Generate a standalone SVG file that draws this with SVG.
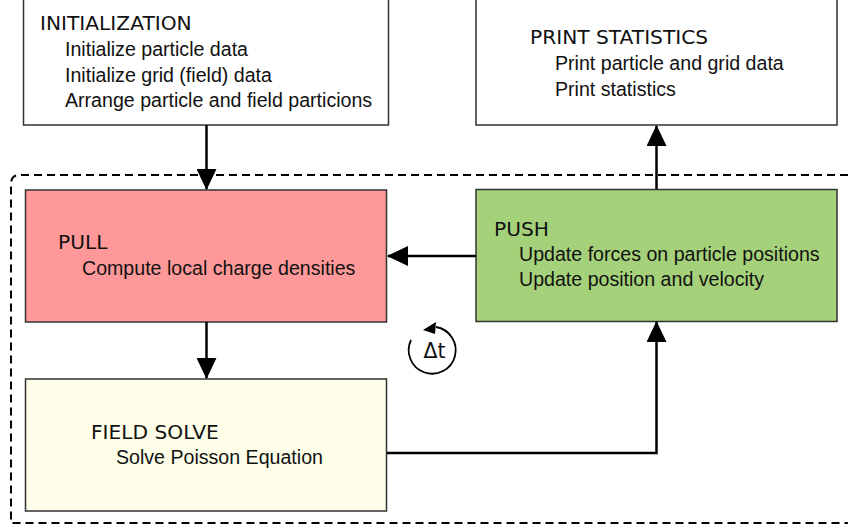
<svg xmlns="http://www.w3.org/2000/svg" width="848" height="530" viewBox="0 0 848 530">
<style>
.box{stroke:#333;stroke-width:1.5}
.title{font-family:"DejaVu Sans",sans-serif;font-size:20.2px;fill:#111}
.body{font-family:"Liberation Sans",Arial,sans-serif;font-size:19.6px;fill:#111}
.conn{stroke:#000;stroke-width:2.5;fill:none}
</style>
<defs>
<marker id="ah" markerUnits="userSpaceOnUse" markerWidth="21" markerHeight="20" refX="20" refY="10" orient="auto" viewBox="0 0 21 20">
<path d="M0,0 L21,10 L0,20 z" fill="#000"/>
</marker>
</defs>
<rect width="848" height="530" fill="#fff"/>
<path d="M848,175 H20 Q11,175 11,184 V523 H848" fill="none" stroke="#000" stroke-width="2" stroke-dasharray="8,5"/>
<g id="init">
<rect class="box" x="23.5" y="-1" width="365" height="126" fill="#fff"/>
<text class="title" x="40" y="30">INITIALIZATION</text>
<text class="body" x="65" y="56">Initialize particle data</text>
<text class="body" x="65" y="81.5">Initialize grid (field) data</text>
<text class="body" x="65" y="107">Arrange particle and field particions</text>
</g>
<g id="print">
<rect class="box" x="476" y="-1" width="361" height="126" fill="#fff"/>
<text class="title" x="530" y="44">PRINT STATISTICS</text>
<text class="body" x="555" y="70">Print particle and grid data</text>
<text class="body" x="555" y="95.5">Print statistics</text>
</g>
<g id="pull">
<rect class="box" x="25.5" y="190" width="361" height="132" fill="#ff9999"/>
<text class="title" x="58" y="249">PULL</text>
<text class="body" x="82" y="275">Compute local charge densities</text>
</g>
<g id="push">
<rect class="box" x="476" y="189.5" width="361" height="132" fill="#a6d17b"/>
<text class="title" x="494" y="235.5">PUSH</text>
<text class="body" x="519" y="261">Update forces on particle positions</text>
<text class="body" x="519" y="286">Update position and velocity</text>
</g>
<g id="field">
<rect class="box" x="25.5" y="379" width="361" height="132" fill="#fefee9"/>
<text class="title" x="91" y="438.5">FIELD SOLVE</text>
<text class="body" x="116" y="463.5">Solve Poisson Equation</text>
</g>
<g id="dt">
<path d="M411,340 A23.5,23.5 0 1 0 436,327" fill="none" stroke="#000" stroke-width="1.8"/>
<polygon points="423,330 436,322 435,334" fill="#000"/>
<text x="434.5" y="358" text-anchor="middle" font-family="DejaVu Sans,sans-serif" font-size="20.5px" fill="#111">Δt</text>
</g>
<g id="connectors">
<path class="conn" d="M206.5,125 V189" marker-end="url(#ah)"/>
<path class="conn" d="M206.5,322 V378" marker-end="url(#ah)"/>
<path class="conn" d="M476,256 H388" marker-end="url(#ah)"/>
<path class="conn" d="M656.5,189 V126" marker-end="url(#ah)"/>
<path class="conn" d="M387,453 H656.5 V322" marker-end="url(#ah)"/>
</g>
</svg>
